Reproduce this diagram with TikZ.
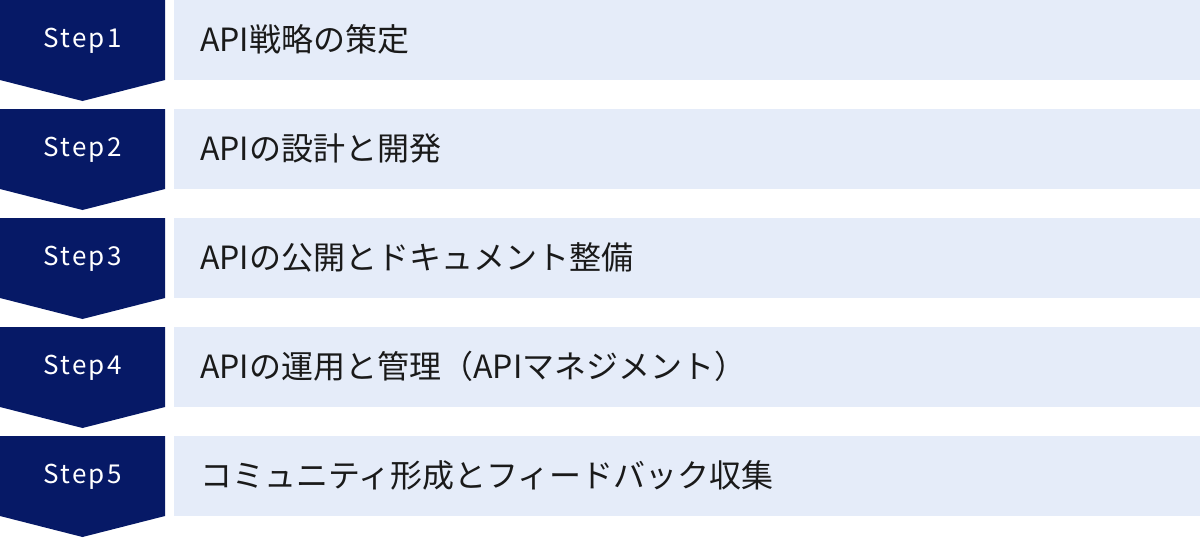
\documentclass[tikz,border=0pt]{standalone}
\usepackage{fontspec}
\setmainfont{Noto Sans CJK JP}
\newfontfamily\stepfont[LetterSpace=9]{Noto Sans CJK JP}
\definecolor{stepnavy}{HTML}{061966}
\definecolor{taskfill}{HTML}{E5ECF9}
\definecolor{taskink}{HTML}{1A1A1A}

\newcommand{\steprow}[3] % step number, top y in px, task text
{
	% chevron with step label
	\fill[stepnavy] (0,#2) -- (165,#2) -- (165,#2+80) -- (82.5,#2+101) -- (0,#2+80) -- cycle;
	\node[steplabel] (step#1) at (82.5,#2+47.5) {Step#1};
	% task bar
	\fill[taskfill] (174,#2) rectangle (1200,#2+80);
	\node[tasklabel] (task#1) at (200,#2+51) {#3};
}

\begin{document}
\begin{tikzpicture}[x=1pt, y=-1pt,
	steplabel/.style={anchor=base, inner sep=0pt, text=white, font=\stepfont\fontsize{26}{28}\selectfont},
	tasklabel/.style={anchor=base west, inner sep=0pt, text=taskink, font=\fontsize{32}{36}\selectfont}]
	% 1200px x 538px, five rows 109px apart
	\useasboundingbox (0,0) rectangle (1200,538);
	\steprow{1}{0}{API戦略の策定};
	\steprow{2}{109}{APIの設計と開発};
	\steprow{3}{218}{APIの公開とドキュメント整備};
	\steprow{4}{327}{APIの運用と管理（APIマネジメント）};
	\steprow{5}{436}{コミュニティ形成とフィードバック収集};
\end{tikzpicture}
\end{document}
